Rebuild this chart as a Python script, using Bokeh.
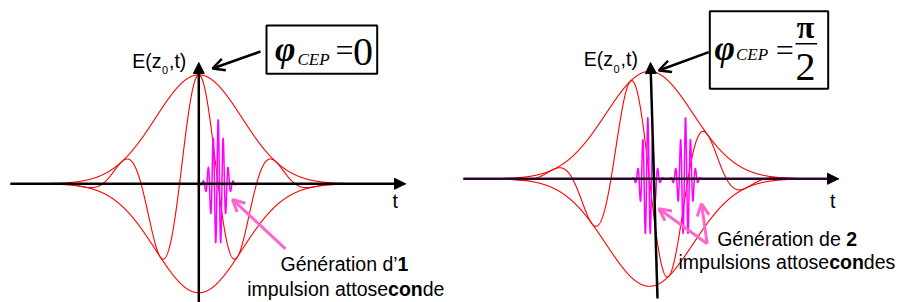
import numpy as np
from bokeh.plotting import figure
from bokeh.layouts import row
from bokeh.models import Arrow, NormalHead, OpenHead, BoxAnnotation, Label, Range1d, ColumnDataSource
from bokeh.embed import file_html
from bokeh.resources import INLINE

# ---------------- data (t in optical cycles, E relative to envelope peak) ----------------
cep_phase = [0.0, np.pi / 2]            # carrier-envelope phase (rad) of each panel
carrier_period = [1.0, 1.0]             # one optical cycle
envelope_sigma = [0.56, 0.565]          # Gaussian envelope width (cycles)
envelope_peak = [1.0, 1.0]
t_axis_start = [-2.445, -2.416]
t_axis_end = [2.684, 2.455]
burst_times = [[0.252], [-0.022, 0.468]]   # attosecond bursts (cycles)
burst_amps = [[0.59], [0.57, 0.57]]
burst_sigma = [0.078, 0.068]
burst_period = [0.065, 0.065]

y_label = ["E(z", "0", ",t)"]
x_label = "t"
caption_1 = [["Génération d’", "1", ""], ["impulsion attose", "con", "de"]]
caption_2 = [["Génération de ", "2", ""], ["impulsions attose", "con", "des"]]

# ---------------- layout (page pixels of the reference) ----------------
SX = 77.0                      # px per optical cycle
ORIGIN_X = [198.3, 649.0]
ORIGIN_Y = [183.3, 178.3]
SY = [109.0, 107.5]
FRAME_X = [(0, 449), (449, 898)]
FRAME_Y = (0, 302)
RED = "#ff0000"
MAGENTA = "#ff00ff"
PINK = "#ff66cc"
SANS = "Liberation Sans"
SERIF = "Liberation Serif"
FS = 19.5
K_SANS = 0.40     # baseline correction (fraction of font size)
K_SERIF = 0.33


def fx(px, i):
    return (px - ORIGIN_X[i]) / SX


def fy(py, i):
    return (ORIGIN_Y[i] - py) / SY[i]


def make_fig(i):
    x0, x1 = FRAME_X[i]
    p = figure(width=x1 - x0, height=FRAME_Y[1] - FRAME_Y[0],
               x_range=Range1d(fx(x0, i), fx(x1, i)),
               y_range=Range1d(fy(FRAME_Y[1], i), fy(FRAME_Y[0], i)),
               x_axis_type=None, y_axis_type=None,
               toolbar_location=None, output_backend="svg",
               min_border=0, outline_line_color=None,
               background_fill_color="white", border_fill_color="white")
    p.grid.grid_line_color = None

    # pulse curves
    t = np.linspace(t_axis_start[i], t_axis_end[i], 3000)
    env = envelope_peak[i] * np.exp(-t ** 2 / (2 * envelope_sigma[i] ** 2))
    field = env * np.cos(2 * np.pi * t / carrier_period[i] + cep_phase[i])
    src = ColumnDataSource(dict(t=t, env=env, neg=-env, field=field))
    p.line("t", "env", source=src, line_color=RED, line_width=1.1)
    p.line("t", "neg", source=src, line_color=RED, line_width=1.1)
    p.line("t", "field", source=src, line_color=RED, line_width=1.1)

    # attosecond bursts
    tb = np.linspace(t_axis_start[i], t_axis_end[i], 9000)
    xuv = np.zeros_like(tb)
    for c, a in zip(burst_times[i], burst_amps[i]):
        xuv += a * np.exp(-(tb - c) ** 2 / (2 * burst_sigma[i] ** 2)) * \
            np.cos(2 * np.pi * (tb - c) / burst_period[i])
    p.line(tb, xuv, line_color=MAGENTA, line_width=1.5)
    return p


figs = [make_fig(0), make_fig(1)]


def label(p, i, px, py, text, size=FS, font=SANS, style="normal", align="left", color="black"):
    k = K_SANS if font == SANS else K_SERIF
    p.add_layout(Label(x=fx(px, i), y=fy(py - k * size, i), text=text, text_font=font,
                       text_font_size=f"{size}px", text_font_style=style,
                       text_align=align, text_baseline="alphabetic", text_color=color))


def arrow(p, i, p0, p1, color, width, head):
    p.add_layout(Arrow(end=head, x_start=fx(p0[0], i), y_start=fy(p0[1], i),
                       x_end=fx(p1[0], i), y_end=fy(p1[1], i),
                       line_color=color, line_width=width))


def box(p, i, l, r, t, b):
    p.add_layout(BoxAnnotation(left=fx(l, i), right=fx(r, i), top=fy(t, i), bottom=fy(b, i),
                               fill_color=None, fill_alpha=0, line_color="black",
                               line_alpha=1.0, line_width=2))


# ---------- left panel ----------
p = figs[0]
arrow(p, 0, (10, 183.3), (405, 183.3), "black", 2.5,
      NormalHead(size=11, fill_color="black", line_color="black"))
arrow(p, 0, (198.3, 310), (198.3, 62), "black", 2.5,
      NormalHead(size=11, fill_color="black", line_color="black"))
label(p, 0, 131.7, 68.3, y_label[0])
label(p, 0, 161.5, 74.0, y_label[1], size=11)
label(p, 0, 168.5, 68.3, y_label[2])
label(p, 0, 392.0, 208.3, x_label)
arrow(p, 0, (260, 51), (212, 68), "black", 2.5, OpenHead(size=12, line_width=2.5, line_color="black"))
arrow(p, 0, (285, 248.3), (232, 199), PINK, 3, OpenHead(size=12, line_width=3, line_color=PINK))
box(p, 0, 266, 376.7, 25, 73.3)
label(p, 0, 284.8, 61, "φ", size=35, font=SERIF, style="bold italic", align="center")
label(p, 0, 297, 65, "CEP", size=17, font=SERIF, style="italic")
label(p, 0, 344.0, 60, "=", size=32, font=SERIF, align="center")
label(p, 0, 362.5, 65, "0", size=40, font=SERIF, align="center")
# caption with bold parts
w = FS
cx = 280.0
label(p, 0, cx, 271.7, caption_1[0][0])
label(p, 0, cx + 6.003 * w, 271.7, caption_1[0][1], style="bold")
cx = 246.7
label(p, 0, cx, 296, caption_1[1][0])
label(p, 0, cx + 7.225 * w, 296, caption_1[1][1], style="bold")
label(p, 0, cx + (7.225 + 1.778) * w, 296, caption_1[1][2])

# ---------- right panel ----------
p = figs[1]
arrow(p, 1, (463, 178.3), (838, 178.3), "#2a0a2a", 2.5,
      NormalHead(size=11, fill_color="black", line_color="black"))
arrow(p, 1, (657, 298), (650, 62), "black", 2.5,
      NormalHead(size=11, fill_color="black", line_color="black"))
label(p, 1, 583.3, 66.7, y_label[0])
label(p, 1, 613.1, 72.4, y_label[1], size=11)
label(p, 1, 620.1, 66.7, y_label[2])
label(p, 1, 829.5, 208.3, x_label)
arrow(p, 1, (708.3, 51.7), (658.3, 70), "black", 2.5, OpenHead(size=12, line_width=2.5, line_color="black"))
arrow(p, 1, (706.7, 243.3), (658.3, 208.3), PINK, 3, OpenHead(size=12, line_width=3, line_color=PINK))
arrow(p, 1, (706.7, 243.3), (701, 203.3), PINK, 3, OpenHead(size=12, line_width=3, line_color=PINK))
box(p, 1, 709.3, 827.7, 10.7, 88.3)
label(p, 1, 724.2, 60, "φ", size=35, font=SERIF, style="bold italic", align="center")
label(p, 1, 735.5, 60, "CEP", size=17, font=SERIF, style="italic")
label(p, 1, 784.2, 60, "=", size=32, font=SERIF, align="center")
label(p, 1, 805.0, 37, "π", size=32, font=SERIF, style="bold", align="center")
arrow(p, 1, (795, 43.3), (816.7, 43.3), "black", 1.6, None)
label(p, 1, 805.0, 80, "2", size=40, font=SERIF, align="center")
cx = 716.7
label(p, 1, cx, 246, caption_2[0][0])
label(p, 1, cx + 6.615 * w, 246, caption_2[0][1], style="bold")
cx = 678.0
label(p, 1, cx, 269.3, caption_2[1][0])
label(p, 1, cx + 7.725 * w, 269.3, caption_2[1][1], style="bold")
label(p, 1, cx + (7.725 + 1.778) * w, 269.3, caption_2[1][2])

layout = row(figs[0], figs[1], spacing=0)
open("out.html", "w").write(file_html(layout, INLINE))
